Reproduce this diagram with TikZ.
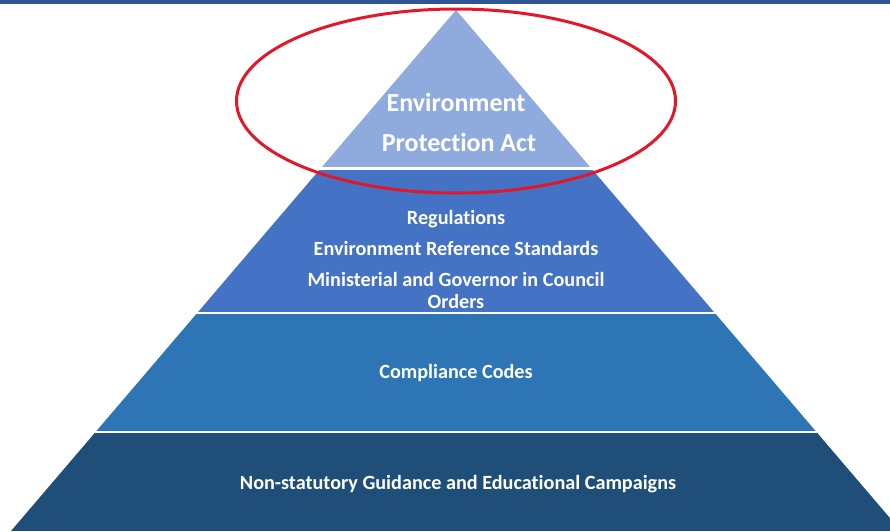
\documentclass[tikz,border=0pt]{standalone}
\usepackage{fontspec}
\setmainfont{Carlito}[Ligatures=NoCommon]
\definecolor{barblue}{HTML}{2F5597}
\definecolor{tierone}{HTML}{8FAADC}
\definecolor{tiertwo}{HTML}{4472C4}
\definecolor{tierthree}{HTML}{2E75B6}
\definecolor{tierfour}{HTML}{1F4E79}
\definecolor{ringred}{HTML}{E3172A}
\tikzset{
  tiertext/.style={white, font=\bfseries\fontsize{20.2}{24}\selectfont, anchor=base, inner sep=0pt},
  toptext/.style={white, font=\bfseries\fontsize{26}{30}\selectfont, anchor=base, inner sep=0pt}
}

\begin{document}
\begin{tikzpicture}[x=1pt, y=-1pt]
  \useasboundingbox (0,0) rectangle (890,531);

  \fill[barblue](0,0) rectangle (890,3.5);

  \begin{scope}
    \clip (456,10)--(11,531)--(901,531)--cycle;
    \fill[tierone](0,10) rectangle (890,166.5);
    \fill[tiertwo](0,169.5) rectangle (890,311.5);
    \fill[tierthree](0,314) rectangle (890,430.5);
    \fill[tierfour](0,433) rectangle (890,531);
  \end{scope}

  \node[toptext] (act1) at (456,111.4) {Environment};
  \node[toptext] (act2) at (459,151.4) {Protection Act};

  \node[tiertext] (regs) at (456,224) {Regulations};
  \node[tiertext] (stds) at (456,255.3) {Environment Reference Standards};
  \node[tiertext] (orders1) at (456,286.3) {Ministerial and Governor in Council};
  \node[tiertext] (orders2) at (456,308) {Orders};

  \node[tiertext] (codes) at (456,378) {Compliance Codes};

  \node[tiertext] (guidance) at (458,489) {Non-statutory Guidance and Educational Campaigns};

  \draw[ringred, line width=3pt](456,101) ellipse [x radius=219.5, y radius=92];
\end{tikzpicture}
\end{document}
